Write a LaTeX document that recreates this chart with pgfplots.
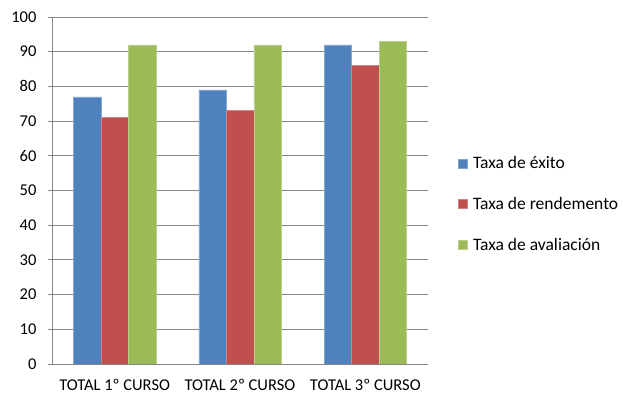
\documentclass[border=0pt]{standalone}
\usepackage{pgfplots}
\pgfplotsset{compat=1.18}
\usepackage{fontspec}
\setmainfont{Carlito}
\definecolor{cblue}{HTML}{4F81BD}
\definecolor{cred}{HTML}{C0504D}
\definecolor{cgreen}{HTML}{9BBB59}
\definecolor{cgrid}{HTML}{868686}
\begin{document}
\begin{tikzpicture}
\begin{axis}[
  scale only axis,
  width=376pt, height=347pt,
  ymin=0, ymax=100, ytick={0,10,...,100},
  xmin=-0.5, xmax=2.5,
  xtick={0,1,2},
  xticklabels={TOTAL 1º CURSO, TOTAL 2º CURSO, TOTAL 3º CURSO},
  /pgf/number format/assume math mode=true,
  ticklabel style={font=\fontsize{16.5}{18}\selectfont, text=black},
  axis x line*=bottom, axis y line*=left,
  axis line style={cgrid, -},
  ymajorgrids, grid style={cgrid, line width=0.8pt},
  y tick style={cgrid, line width=0.8pt},
  x tick style={draw=none},
  tick align=outside, major tick length=4pt,
  yticklabel style={xshift=-8pt},
  xticklabel style={yshift=-8pt},
  ybar, bar width=27.5pt,
  legend style={at={(1.07,0.461)}, anchor=west, draw=none, fill=none,
    font=\fontsize{17.5}{19}\selectfont, row sep=27pt, column sep=6pt,
    nodes={inner sep=0pt}},
  legend cell align=left,
  legend image code/.code={\fill[#1] (0pt,-4.5pt) rectangle (9pt,4.5pt);},
]
\addplot[fill=cblue, draw=cblue!70!white, line width=0.5pt, bar shift=-27.5pt] coordinates {(0,77) (1,79) (2,92)};
\addplot[fill=cred, draw=cred!70!white, line width=0.5pt, bar shift=0pt] coordinates {(0,71) (1,73) (2,86)};
\addplot[fill=cgreen, draw=cgreen!70!white, line width=0.5pt, bar shift=27.5pt] coordinates {(0,92) (1,92) (2,93)};
\legend{Taxa de éxito, Taxa de rendemento, Taxa de avaliación}
\end{axis}
\pgfresetboundingbox
\path[use as bounding box] (-52pt,-37pt) rectangle (571pt,364pt);
\end{tikzpicture}
\end{document}
